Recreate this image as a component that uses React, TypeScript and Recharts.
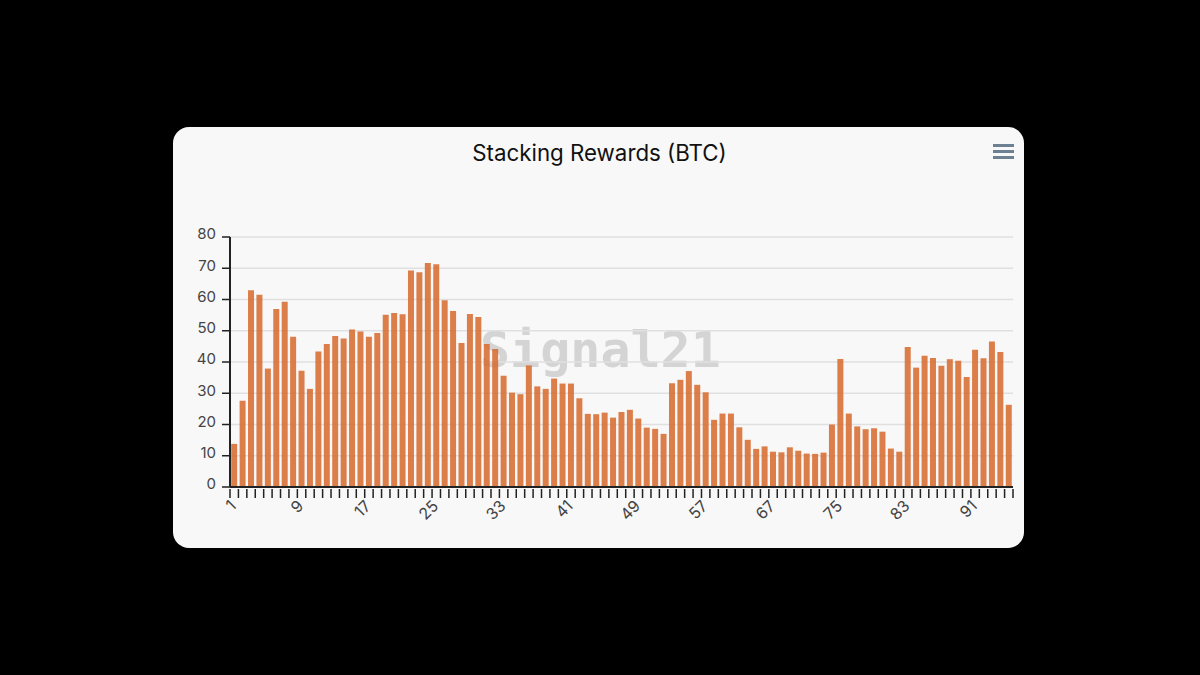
import { BarChart, Bar, XAxis, YAxis, CartesianGrid } from 'recharts'

const cycles = [
  1, 2, 3, 4, 5, 6, 7, 8, 9, 10, 11, 12, 13, 14, 15, 16, 17, 18, 19, 20,
  21, 22, 23, 24, 25, 26, 27, 28, 29, 30, 31, 32, 33, 34, 35, 36, 37, 38, 39, 40,
  41, 42, 43, 44, 45, 46, 47, 48, 49, 50, 51, 52, 53, 54, 55, 56, 57, 58, 59, 60,
  63, 64, 65, 66, 67, 68, 69, 70, 71, 72, 73, 74, 75, 76, 77, 78, 79, 80, 81, 82,
  83, 84, 85, 86, 87, 88, 89, 90, 91, 92, 93, 94, 95,
]
const rewards = [
  13.8, 27.6, 63, 61.5, 37.9, 57, 59.3, 48.1, 37.2, 31.4, 43.4, 45.8, 48.3, 47.5, 50.4, 49.8, 48.1, 49.3, 55.1, 55.7,
  55.3, 69.3, 68.7, 71.7, 71.3, 59.8, 56.3, 46.1, 55.4, 54.4, 45.8, 44.2, 35.6, 30.2, 29.7, 38.9, 32.2, 31.4, 34.7, 33.1,
  33.1, 28.4, 23.4, 23.3, 23.8, 22.2, 24, 24.7, 21.9, 19, 18.6, 17, 33.2, 34.3, 37.1, 32.7, 30.3, 21.5, 23.5, 23.5,
  19.1, 15.1, 12.2, 13, 11.3, 11.1, 12.7, 11.6, 10.7, 10.6, 11, 20, 41, 23.5, 19.4, 18.5, 18.8, 17.7, 12.3, 11.3,
  44.8, 38.2, 42, 41.3, 38.8, 40.9, 40.4, 35.2, 43.9, 41.2, 46.6, 43.2, 26.3,
]
const yTicks = [0, 10, 20, 30, 40, 50, 60, 70, 80]
const data = cycles.map((cycle, i) => ({ cycle, rewards: rewards[i] }))

const font = 'Inter, sans-serif'
const plotWidth = 783
const band = plotWidth / cycles.length

function CycleTick({ x, y, index, payload }: any) {
  const left = x - band / 2
  return (
    <g>
      <line x1={left} x2={left} y1={y - 8} y2={y + 1} stroke="#222" strokeWidth={1.5} />
      {index === cycles.length - 1 && (
        <line x1={left + band} x2={left + band} y1={y - 8} y2={y + 1} stroke="#222" strokeWidth={1.5} />
      )}
      {index % 8 === 0 && (
        <text
          x={x + 3}
          y={y + 10}
          textAnchor="end"
          fontSize={16}
          fontFamily={font}
          fill="#444"
          transform={`rotate(-45 ${x + 3} ${y + 10})`}
        >
          {payload.value}
        </text>
      )}
    </g>
  )
}

export default function App() {
  return (
    <div style={{ position: 'absolute', left: 0, top: 0, width: 1200, height: 675, background: '#000', overflow: 'hidden' }}>
      <div style={{ position: 'absolute', left: 173, top: 127, width: 851, height: 421, borderRadius: 16, background: '#f8f8f8' }} />
      <div style={{ position: 'absolute', left: 173, top: 139, width: 853, textAlign: 'center', fontFamily: font, fontSize: 22.3, lineHeight: '28px', color: '#111' }}>
        Stacking Rewards (BTC)
      </div>
      <div style={{ position: 'absolute', left: 993, top: 144, width: 21 }}>
        {[0, 1, 2].map(i => (
          <div key={i} style={{ height: 3, marginBottom: 3, background: '#6e8192' }} />
        ))}
      </div>
      <div style={{ position: 'absolute', left: 480, top: 320, fontFamily: '"DejaVu Sans Mono", monospace', fontWeight: 700, fontSize: 50, lineHeight: '60px', color: '#d4d4d4' }}>
        Signal21
      </div>
      <div style={{ position: 'absolute', left: 0, top: 0 }}>
        <BarChart
          width={1200}
          height={675}
          data={data}
          barCategoryGap="14%"
          margin={{ top: 237, right: 187, bottom: 148, left: 170 }}
        >
          <CartesianGrid horizontal vertical={false} stroke="#e0e0e0" strokeWidth={1.5} />
          <XAxis
            dataKey="cycle"
            interval={0}
            height={40}
            tickLine={false}
            axisLine={{ stroke: '#222', strokeWidth: 2 }}
            tick={<CycleTick />}
            tickSize={8}
          />
          <YAxis
            width={60}
            domain={[0, 80]}
            ticks={yTicks}
            tickSize={8}
            tickMargin={6}
            interval={0}
            axisLine={{ stroke: '#222', strokeWidth: 2 }}
            tickLine={{ stroke: '#222', strokeWidth: 1.5 }}
            tick={{ fontSize: 15, fontFamily: font, fill: '#444', dy: -3 }}
          />
          <Bar dataKey="rewards" fill="#d7682a" fillOpacity={0.85} isAnimationActive={false} />
        </BarChart>
      </div>
    </div>
  )
}
